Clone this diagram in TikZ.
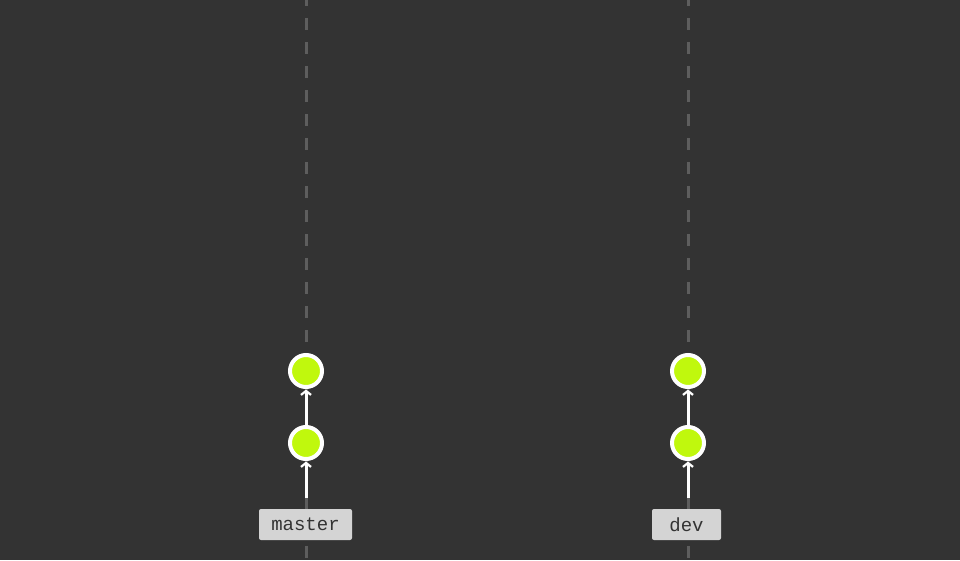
\documentclass[tikz,border=0pt]{standalone}
\usepackage{fontspec}
\setmonofont{Liberation Mono}
\usetikzlibrary{arrows.meta}
\definecolor{bgc}{HTML}{333333}
\definecolor{lanec}{HTML}{5E5E5E}
\definecolor{commitc}{HTML}{C0F80D}
\definecolor{labelc}{HTML}{D4D4D4}
\definecolor{textc}{HTML}{333333}
\tikzset{
  lane/.style={draw=lanec, line width=3pt, dash pattern=on 12pt off 12pt, dash phase=6pt},
  commit/.style={circle, fill=commitc, draw=white, line width=4pt, minimum size=32pt, inner sep=0pt},
  branch/.style={rectangle, rounded corners=2pt, fill=labelc, text=textc, font=\ttfamily\fontsize{19}{19}\selectfont, minimum height=31pt, inner sep=0pt, anchor=center},
  link/.style={draw=white, line width=3pt, -{Straight Barb[length=4pt,width=10pt,line width=2.2pt]}, shorten >=0.5pt}
}
\begin{document}
\begin{tikzpicture}[x=1pt,y=1pt]
\fill[bgc] (0,0) rectangle (960,560);
\useasboundingbox (0,0) rectangle (960,560);
% lanes
\coordinate (mtop) at (306,560);
\coordinate (mbot) at (306,0);
\coordinate (dtop) at (688,560);
\coordinate (dbot) at (688,0);
\draw[lane] (mtop) -- (mbot);
\draw[lane] (dtop) -- (dbot);
% master
\node[commit] (m2) at (306,189) {};
\node[commit] (m1) at (306,117) {};
\node[branch, minimum width=93pt] (master) at (305.5,35.5) {master};
\coordinate (mstart) at (306,62);
\draw[link] (mstart) -- (m1);
\draw[link] (m1) -- (m2);
% dev
\node[commit] (d2) at (688,189) {};
\node[commit] (d1) at (688,117) {};
\node[branch, minimum width=69pt] (dev) at (686.5,35.5) {dev};
\coordinate (dstart) at (688,62);
\draw[link] (dstart) -- (d1);
\draw[link] (d1) -- (d2);
\end{tikzpicture}
\end{document}
